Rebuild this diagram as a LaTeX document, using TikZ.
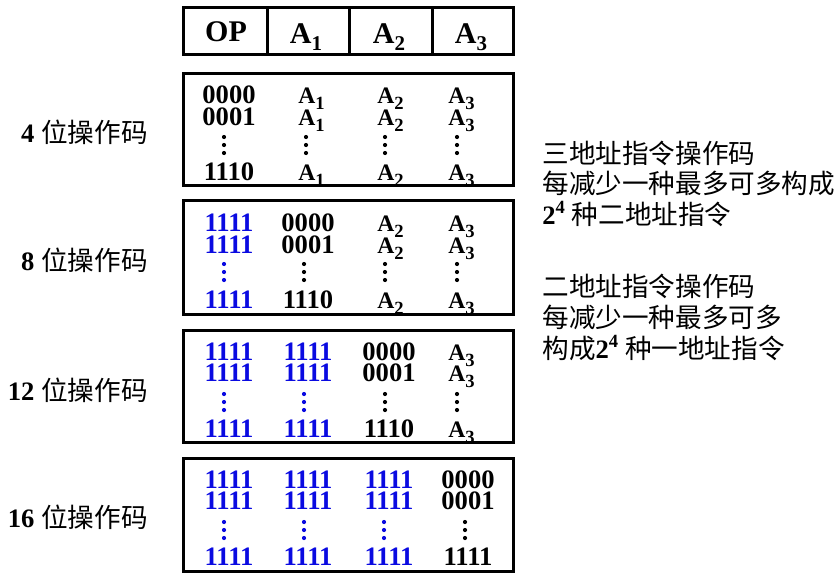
\documentclass[tikz,border=0pt]{standalone}
\usepackage{fontspec}
\setmainfont{Liberation Serif}
\newfontfamily\cjk{Noto Sans CJK SC}
\definecolor{bl}{RGB}{10,10,225}
\newcommand\Asb[1]{A\raisebox{-3pt}{\fontsize{9.3}{9.3}\selectfont\bfseries #1}}
\newcommand\Hsb[1]{A\raisebox{-3.5pt}{\fontsize{10.5}{10.5}\selectfont\bfseries #1}}
\tikzset{
  frame/.style={draw, line width=1.5pt},
  num/.style={font=\fontsize{13.3}{13.3}\selectfont\bfseries, anchor=base, inner sep=0pt},
  bnum/.style={num, text=bl},
  addr/.style={font=\fontsize{11.8}{11.8}\selectfont\bfseries, anchor=base west, inner sep=0pt},
  head/.style={font=\fontsize{15}{15}\selectfont\bfseries, anchor=base, inner sep=0pt},
  cn/.style={font=\fontsize{13.3}{14}\selectfont\cjk, anchor=base west, inner sep=0pt},
  lab/.style={font=\fontsize{13.3}{14}\selectfont, anchor=base east, inner sep=0pt},
  dotk/.style={fill=black},
  dotb/.style={fill=bl},
}
\begin{document}
\begin{tikzpicture}[x=0.5pt,y=-0.5pt]
\useasboundingbox (0,0) rectangle (839,578);
% header
\draw[frame] (183,7) rectangle (513,54);
\draw[frame] (267,7) -- (267,54) (349,7) -- (349,54) (432,7) -- (432,54);
\node[head] (hop) at (226,41) {OP};
\node[head] (ha1) at (306,43) {\Hsb{1}};
\node[head] (ha2) at (389,43) {\Hsb{2}};
\node[head] (ha3) at (471,43) {\Hsb{3}};
% boxes
\foreach \T/\B in {73/185,200/314,330/442,458/571}{
  \draw[frame] (183,\T) rectangle (513,\B);
}
% --- box 1
\foreach \r/\y in {a/103,b/125,c/180}{
  \node[addr] (b1a1\r) at (298,\y) {\Asb{1}};
  \node[addr] (b1a2\r) at (377,\y) {\Asb{2}};
  \node[addr] (b1a3\r) at (448,\y) {\Asb{3}};
}
\node[num] (b1n1) at (229,103) {0000};
\node[num] (b1n2) at (229,125) {0001};
\node[num] (b1n3) at (229,180) {1110};
\foreach \x in {224,306,385,457}{\foreach \d in {64,72,80}{\fill[dotk] (\x,73+\d) circle (2.1);}}
% --- box 2
\foreach \r/\y in {a/231,b/253,c/308}{
  \node[bnum] (b2b\r) at (229,\y) {1111};
  \node[addr] (b2a2\r) at (377,\y) {\Asb{2}};
  \node[addr] (b2a3\r) at (448,\y) {\Asb{3}};
}
\node[num] (b2n1) at (308,231) {0000};
\node[num] (b2n2) at (308,253) {0001};
\node[num] (b2n3) at (308,308) {1110};
\foreach \d in {64,72,80}{\fill[dotb] (224,200+\d) circle (2.1);}
\foreach \x in {304,385,457}{\foreach \d in {64,72,80}{\fill[dotk] (\x,200+\d) circle (2.1);}}
% --- box 3
\foreach \r/\y in {a/360,b/381,c/437}{
  \node[bnum] (b3b\r) at (229,\y) {1111};
  \node[bnum] (b3c\r) at (308,\y) {1111};
  \node[addr] (b3a3\r) at (448,\y) {\Asb{3}};
}
\node[num] (b3n1) at (389,360) {0000};
\node[num] (b3n2) at (389,381) {0001};
\node[num] (b3n3) at (389,437) {1110};
\foreach \x in {224,304}{\foreach \d in {64,72,80}{\fill[dotb] (\x,330+\d) circle (2.1);}}
\foreach \x in {385,457}{\foreach \d in {64,72,80}{\fill[dotk] (\x,330+\d) circle (2.1);}}
% --- box 4
\foreach \r/\y in {a/488,b/509,c/565}{
  \node[bnum] (b4b\r) at (229,\y) {1111};
  \node[bnum] (b4c\r) at (308,\y) {1111};
  \node[bnum] (b4d\r) at (389,\y) {1111};
}
\node[num] (b4n1) at (468,488) {0000};
\node[num] (b4n2) at (468,509) {0001};
\node[num] (b4n3) at (468,565) {1111};
\foreach \x in {224,304,384}{\foreach \d in {64,72,80}{\fill[dotb] (\x,458+\d) circle (2.1);}}
\foreach \d in {64,72,80}{\fill[dotk] (465,458+\d) circle (2.1);}
% left labels
\node[lab] (l1) at (148,142) {\textbf{4} {\cjk 位操作码}};
\node[lab] (l2) at (148,270) {\textbf{8} {\cjk 位操作码}};
\node[lab] (l3) at (148,400) {\textbf{12} {\cjk 位操作码}};
\node[lab] (l4) at (148,527) {\textbf{16} {\cjk 位操作码}};
% right text
\node[cn] (r1) at (542,163) {三地址指令操作码};
\node[cn] (r2) at (542,193) {每减少一种最多可多构成};
\node[cn] (r3) at (542,224) {{\rmfamily\bfseries 2\textsuperscript{4}} 种二地址指令};
\node[cn] (r4) at (542,296) {二地址指令操作码};
\node[cn] (r5) at (542,327) {每减少一种最多可多};
\node[cn] (r6) at (542,358) {构成{\rmfamily\bfseries 2\textsuperscript{4}} 种一地址指令};
\end{tikzpicture}
\end{document}
